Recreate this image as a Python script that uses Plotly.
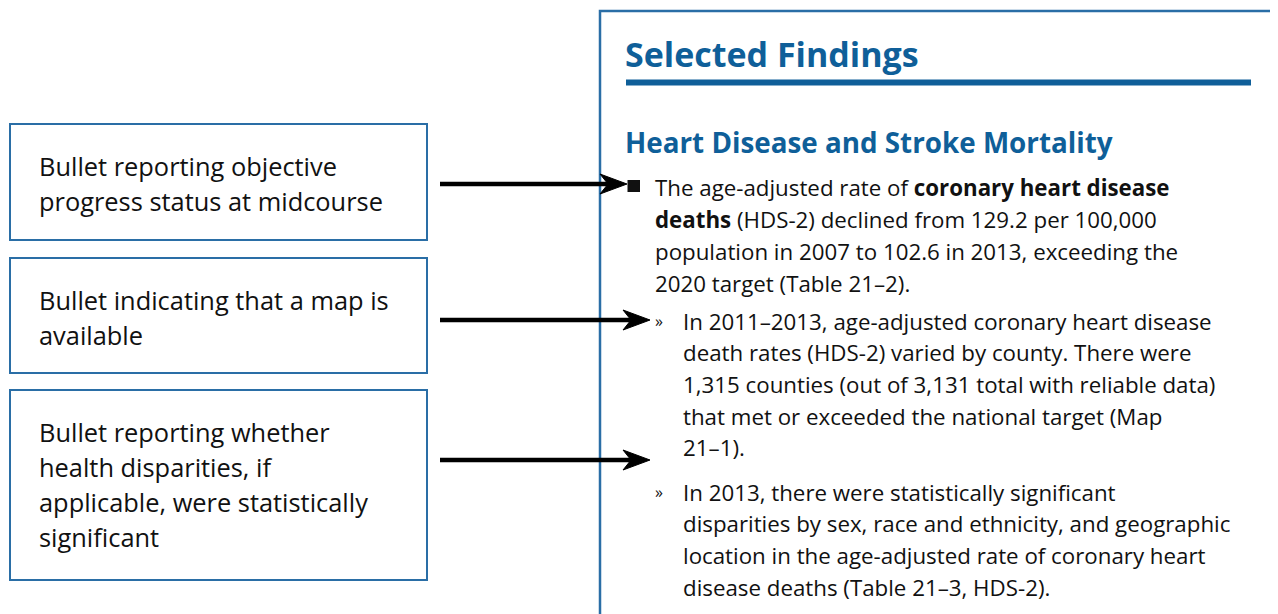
import plotly.graph_objects as go

W, H = 1278, 614
OFF = 8  # page body margin compensation
FONT = "Open Sans, sans-serif"
BLUE = "#0f5f99"
BORDER = "#2a6ea6"

# ---- text content ----
box_texts = [
    ["Bullet reporting objective", "progress status at midcourse"],
    ["Bullet indicating that a map is", "available"],
    ["Bullet reporting whether", "health disparities, if", "applicable, were statistically", "significant"],
]
title_text = "Selected Findings"
subtitle_text = "Heart Disease and Stroke Mortality"
bullet_lines = [
    "The age-adjusted rate of <b>coronary heart disease</b>",
    "<b>deaths</b> (HDS-2) declined from 129.2 per 100,000",
    "population in 2007 to 102.6 in 2013, exceeding the",
    "2020 target (Table 21–2).",
]
sub1_lines = [
    "In 2011–2013, age-adjusted coronary heart disease",
    "death rates (HDS-2) varied by county. There were",
    "1,315 counties (out of 3,131 total with reliable data)",
    "that met or exceeded the national target (Map",
    "21–1).",
]
sub2_lines = [
    "In 2013, there were statistically significant",
    "disparities by sex, race and ethnicity, and geographic",
    "location in the age-adjusted rate of coronary heart",
    "disease deaths (Table 21–3, HDS-2).",
]

# ---- layout geometry ----
boxes = [(10, 124, 427, 240), (10, 258, 427, 373), (10, 390, 427, 580)]
box_first_line = [166, 300, 432]
box_line_h = 35
arrows = [(440, 627, 184), (440, 650, 320), (440, 650, 460)]

fig = go.Figure()
shapes = []
annotations = []

for (x0, y0, x1, y1), lines, fy in zip(boxes, box_texts, box_first_line):
    shapes.append(dict(type="rect", x0=x0, y0=y0, x1=x1, y1=y1,
                       line=dict(color=BORDER, width=2), fillcolor="white"))
    for i, t in enumerate(lines):
        annotations.append(dict(x=37, y=fy + i * box_line_h, text=t, showarrow=False,
                                xanchor="left", yanchor="middle",
                                font=dict(family=FONT, size=25.4, color="#111")))

# right panel
shapes.append(dict(type="rect", x0=600, y0=11, x1=1275, y1=660,
                   line=dict(color=BORDER, width=2.5)))
shapes.append(dict(type="rect", x0=626, y0=79.5, x1=1251, y1=85.5,
                   line=dict(width=0), fillcolor=BLUE))

annotations.append(dict(x=623, y=54, text="<b>" + title_text + "</b>", showarrow=False,
                        xanchor="left", yanchor="middle",
                        font=dict(family=FONT, size=34, color=BLUE)))
annotations.append(dict(x=623, y=142, text="<b>" + subtitle_text + "</b>", showarrow=False,
                        xanchor="left", yanchor="middle",
                        font=dict(family=FONT, size=27.8, color=BLUE)))

# arrows
for xs, xe, y in arrows:
    shapes.append(dict(type="line", x0=xs, y0=y, x1=xe - 12, y1=y,
                       line=dict(color="black", width=4.5)))
    shapes.append(dict(type="path",
                       path=f"M {xe} {y} L {xe-27} {y-10} L {xe-19} {y} L {xe-27} {y+10} Z",
                       fillcolor="black", line=dict(color="black", width=1)))

# main bullet square
shapes.append(dict(type="rect", x0=627.5, y0=180, x1=640, y1=192,
                   fillcolor="#111", line=dict(width=0)))

body_font = dict(family=FONT, size=22.3, color="#111")
for i, t in enumerate(bullet_lines):
    annotations.append(dict(x=653, y=187 + i * 32, text=t, showarrow=False,
                            xanchor="left", yanchor="middle", font=body_font))

for start_y, lines in ((321, sub1_lines), (492, sub2_lines)):
    annotations.append(dict(x=653, y=start_y, text="»", showarrow=False,
                            xanchor="left", yanchor="middle",
                            font=dict(family=FONT, size=16, color="#111")))
    for i, t in enumerate(lines):
        annotations.append(dict(x=681, y=start_y + i * 31.7, text=t, showarrow=False,
                                xanchor="left", yanchor="middle", font=body_font))

fig.update_layout(
    width=W, height=H, margin=dict(l=0, r=0, t=0, b=0),
    paper_bgcolor="white", plot_bgcolor="white",
    xaxis=dict(range=[OFF, W + OFF], visible=False, fixedrange=True),
    yaxis=dict(range=[H + OFF, OFF], visible=False, fixedrange=True),
    shapes=shapes, annotations=annotations, showlegend=False,
)
fig.write_html("out.html")
